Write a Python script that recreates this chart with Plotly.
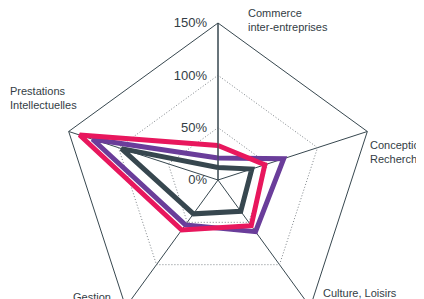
import plotly.graph_objects as go

categories = ["Commerce inter-entreprises", "Conception Recherche", "Culture, Loisirs",
              "Gestion", "Prestations Intellectuelles"]
series_names = ["Série 1", "Série 2", "Série 3"]
dark_values = [12, 34, 37, 40, 97]
purple_values = [21, 66, 61, 53, 126]
pink_values = [33, 47, 54, 59, 139]
colors = ["#37474f", "#6a3d9a", "#e8175d"]
radial_ticks = [0, 50, 100, 150]
radial_tick_labels = ["0%", "50%", "100%", "150%"]

fig = go.Figure()
for name, vals, col in zip(series_names, [dark_values, purple_values, pink_values], colors):
    fig.add_trace(go.Scatterpolar(
        r=vals + vals[:1], theta=categories + categories[:1],
        mode="lines", line=dict(color=col, width=5), name=name,
        showlegend=False, hoverinfo="skip"))

# page body adds an 8px offset; compensate
OFF = 8
W, H = 424, 333
T = 11
PW, PH = W, H - T
cx, cy, R = 218 - OFF, 176 - OFF, 157

fig.update_layout(
    width=W, height=H,
    margin=dict(l=0, r=0, t=T, b=0),
    paper_bgcolor="white",
    font=dict(family="Liberation Sans, Arial, sans-serif", color="#333d45"),
    polar=dict(
        domain=dict(x=[(cx - R) / PW, (cx + R) / PW], y=[0, 1]),
        bgcolor="white",
        gridshape="linear",
        angularaxis=dict(
            rotation=90, direction="clockwise",
            showline=True, linecolor="#37474f", linewidth=1,
            showgrid=True, gridcolor="#37474f", gridwidth=1,
            showticklabels=False, ticks="",
        ),
        radialaxis=dict(
            range=[0, 150], angle=90, tickangle=90,
            tickvals=radial_ticks, ticktext=radial_tick_labels,
            showline=True, linecolor="#37474f", linewidth=1,
            showgrid=True, gridcolor="#7d8388", griddash="1px,2px", gridwidth=1,
            tickfont=dict(size=13, color="#333d45"),
            ticks="outside", ticklen=6, tickcolor="rgba(0,0,0,0)",
            side="counterclockwise",
        ),
    ),
)

label_font = dict(family="Liberation Sans, Arial, sans-serif", size=11, color="#333d45")
labels = [
    ("Commerce<br>inter-entreprises", 246, 5),
    ("Conception<br>Recherche", 368, 137),
    ("Culture, Loisirs", 321, 285),
    ("Gestion", 71, 289),
    ("Prestations<br>Intellectuelles", 8, 83),
]
for text, x, y in labels:
    px, py = x - OFF, y - OFF
    fig.add_annotation(text=text, x=px / PW, y=1 - (py - T) / PH, xref="paper", yref="paper",
                       xanchor="left", yanchor="top", showarrow=False, align="left",
                       font=label_font)

fig.write_html("out.html")
